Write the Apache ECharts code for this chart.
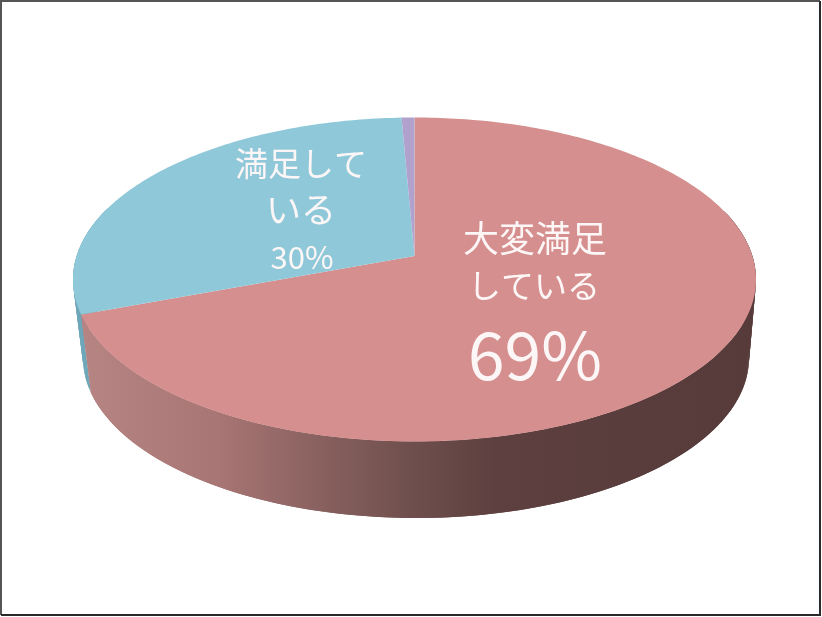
<!DOCTYPE html>
<html><head><meta charset="utf-8">
<style>html,body{margin:0;padding:0;background:#fff}#c{width:822px;height:617px}</style>
<script src="https://cdn.jsdelivr.net/npm/echarts@6/dist/echarts.min.js"></script>
</head><body><div id="c"></div>
<script>
const categories = ['大変満足している', '満足している', 'その他'];
const values = [69.3, 30.0, 0.7];
const labelLines = [['大変満足', 'している'], ['満足して', 'いる']];
const percentLabels = ['69%', '30%'];
const faceColors = ['#d58f8e', '#8fc8d9', '#b0a2cc'];

const W = 822, H = 617;
const FACE = {cx: 414.5, cy: 279.5, rx: 341.5, ry: 162};
const BASE = {cx: 416, cy: 358, rx: 333, ry: 160};
const TILT = -0.145;               // perspective shift of the pie centre
const total = values.reduce((a, b) => a + b, 0);
const starts = values.map((_, i) => values.slice(0, i).reduce((a, b) => a + b, 0));

// position on the pie (fraction clockwise from top) -> point on the ellipse
function project(E, frac) {
  const t = frac * 2 * Math.PI;
  const u = Math.sin(t), v = -Math.cos(t);
  const d = 1 + TILT * v;
  return [E.cx + E.rx * u * Math.sqrt(1 - TILT * TILT) / d,
          E.cy + E.ry * (v + TILT) / d];
}
function arcFractions(a, b) {
  const n = Math.max(2, Math.ceil((b - a) * 360));
  const out = [];
  for (let i = 0; i <= n; i++) out.push(a + (b - a) * i / n);
  return out;
}
const sideFill = [
  {type:'linear', global:true, x:82, y:0, x2:750, y2:0, colorStops:[
    {offset:0,color:'#b58483'},{offset:0.2,color:'#a87675'},{offset:0.4,color:'#805b59'},
    {offset:0.5,color:'#6d4e4c'},{offset:0.62,color:'#5d403f'},{offset:1,color:'#563b3a'}]},
  '#6ea7b8',
  '#7d7399'
];
const order = [2, 1, 0];
const dataRows = categories.map((c, i) => [i, values[i], starts[i]]);
const textRows = [
  {t:labelLines[0][0], x:535, y:238, s:36},
  {t:labelLines[0][1], x:534, y:285, s:33},
  {t:percentLabels[0], x:535, y:355, s:66},
  {t:labelLines[1][0], x:301, y:163, s:33},
  {t:labelLines[1][1], x:301, y:210, s:35},
  {t:percentLabels[1], x:302, y:257, s:31}
];

const option = {
  animation: false,
  backgroundColor: '#fff',
  graphic: {elements: [
    {type:'polyline', z:0, shape:{points:[[1,H-2],[1,1],[W-2,1]]}, style:{fill:'none',stroke:'#555',lineWidth:2}},
    {type:'polyline', z:0, shape:{points:[[W-2,1],[W-2,H-2],[1,H-2]]}, style:{fill:'none',stroke:'#2a2a2a',lineWidth:2}},
    ...textRows.map(o => ({type:'text', z:10, x:o.x, y:o.y, style:{
      text:o.t, fill:'#fdf6f6', align:'center', verticalAlign:'middle',
      font:'400 '+o.s+'px "Noto Sans CJK JP","Noto Sans",sans-serif'}}))
  ]},
  series: [
    {type:'custom', coordinateSystem:'none', silent:true, z:1,
     data: order.map(i => dataRows[i]),
     renderItem(params, api) {
       const i = api.value(0), a = api.value(2)/total, b = a + api.value(1)/total;
       const fr = arcFractions(a, b);
       const children = [];
       for (let k = 0; k < fr.length - 1; k++) {
         // the back of the wall is hidden behind the top face
         if (-Math.cos(fr[k] * 2 * Math.PI) < -0.3) continue;
         const f0 = fr[k], f1 = fr[Math.min(k + 2, fr.length - 1)];
         children.push({type:'polygon',
           shape:{points:[project(FACE, f0), project(FACE, f1), project(BASE, f1), project(BASE, f0)]},
           style:{fill:sideFill[i]}});
       }
       return {type:'group', children};
     }},
    {type:'custom', coordinateSystem:'none', silent:true, z:2,
     data: dataRows,
     renderItem(params, api) {
       const i = api.value(0), a = api.value(2)/total, b = a + api.value(1)/total;
       const pts = [[FACE.cx, FACE.cy + FACE.ry * TILT]].concat(arcFractions(a, b).map(f => project(FACE, f)));
       return {type:'polygon', shape:{points:pts}, style:{fill:faceColors[i]}};
     }}
  ]
};
const chart = echarts.init(document.getElementById('c'), null, {width:W, height:H});
chart.setOption(option);
</script></body></html>
